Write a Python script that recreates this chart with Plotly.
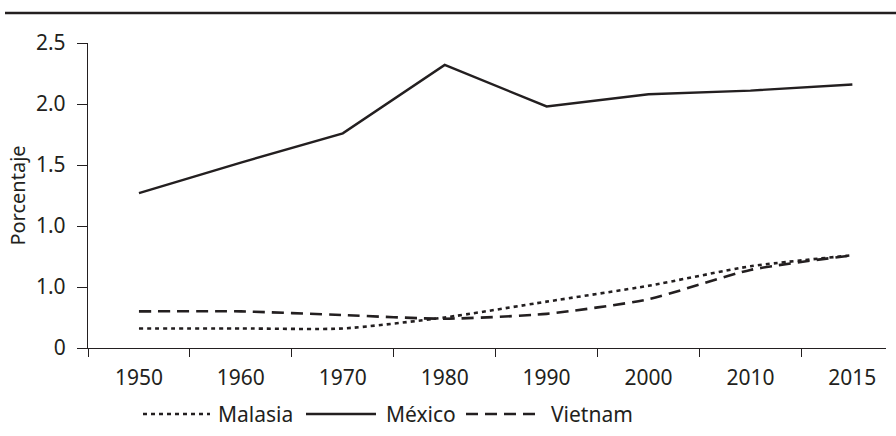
"""Porcentaje por país, 1950-2015."""

import plotly.graph_objects as go

years = ["1950", "1960", "1970", "1980", "1990", "2000", "2010", "2015"]
malasia = [0.16, 0.16, 0.16, 0.25, 0.38, 0.51, 0.67, 0.76]
mexico = [1.27, 1.52, 1.76, 2.32, 1.98, 2.08, 2.11, 2.16]
vietnam = [0.30, 0.30, 0.27, 0.24, 0.28, 0.40, 0.64, 0.76]

series_names = ["Malasia", "México", "Vietnam"]
y_tickvals = [0, 0.5, 1.0, 1.5, 2.0, 2.5]
y_ticktext = ["0", "1.0", "1.0", "1.5", "2.0", "2.5"]

INK = "#231f20"
FONT = "Noto Sans"

# styles per series: (dash, shape, width)
styles = {
    "Malasia": ("4px,4px", "spline", 2.6),
    "México": ("solid", "linear", 2.4),
    "Vietnam": ("12px,7px", "spline", 2.6),
}

fig = go.Figure()
for name, values in zip(series_names, [malasia, mexico, vietnam]):
    dash, shape, width = styles[name]
    fig.add_trace(
        go.Scatter(
            x=years,
            y=values,
            mode="lines",
            name=name,
            line=dict(color=INK, width=width, dash=dash, shape=shape, smoothing=0.6),
            showlegend=False,
            cliponaxis=False,
        )
    )

# plot area in pixels: x 88..886, y 43..348
L, R, T, B = 88, 886, 43, 348


def px(x):
    return (x - L) / (R - L)


def py(y):
    return (B - y) / (B - T)


shapes = [
    # rule across the top
    dict(type="line", xref="paper", yref="paper", x0=px(5), x1=px(896),
         y0=py(13), y1=py(13), line=dict(color=INK, width=2.5)),
]
annotations = []

# hand-made legend so the line samples are as long as in the original
legend_items = [
    ("Malasia", 143, 210, 216),
    ("México", 306, 376, 384),
    ("Vietnam", 466, 538, 549),
]
for name, x0, x1, xt in legend_items:
    dash, _, width = styles[name]
    shapes.append(
        dict(type="line", xref="paper", yref="paper", x0=px(x0), x1=px(x1),
             y0=py(414), y1=py(414), line=dict(color=INK, width=width, dash=dash))
    )
    annotations.append(
        dict(text=name, xref="paper", yref="paper", x=px(xt), y=py(414),
             xanchor="left", yanchor="middle", showarrow=False,
             font=dict(family=FONT, size=21, color=INK))
    )

fig.update_layout(
    width=896,
    height=436,
    margin=dict(l=L, r=896 - R, t=T, b=436 - B, autoexpand=False),
    paper_bgcolor="white",
    plot_bgcolor="white",
    font=dict(family=FONT, size=22, color=INK),
    shapes=shapes,
    annotations=annotations,
    xaxis=dict(
        type="category",
        range=[-0.5, 7.33],
        tickson="boundaries",
        ticks="outside",
        ticklen=8,
        tickwidth=1.3,
        tickcolor=INK,
        showline=True,
        linecolor=INK,
        linewidth=1.3,
        showgrid=False,
        zeroline=False,
        automargin=False,
        ticklabelstandoff=11,
        tickfont=dict(size=21),
    ),
    yaxis=dict(
        range=[0, 2.5],
        tickvals=y_tickvals,
        ticktext=y_ticktext,
        ticks="outside",
        ticklen=10,
        tickwidth=1.3,
        tickcolor=INK,
        showline=True,
        linecolor=INK,
        linewidth=1.3,
        showgrid=False,
        zeroline=False,
        automargin=False,
        ticklabelstandoff=7,
        tickfont=dict(size=21),
        title=dict(text="Porcentaje", font=dict(size=20), standoff=4),
    ),
)

# the page has a default 8px body margin; drop it so the figure sits at 0,0
fig.write_html(
    "out.html",
    config={"displayModeBar": False},
    post_script="document.body.style.margin = '0';",
)
